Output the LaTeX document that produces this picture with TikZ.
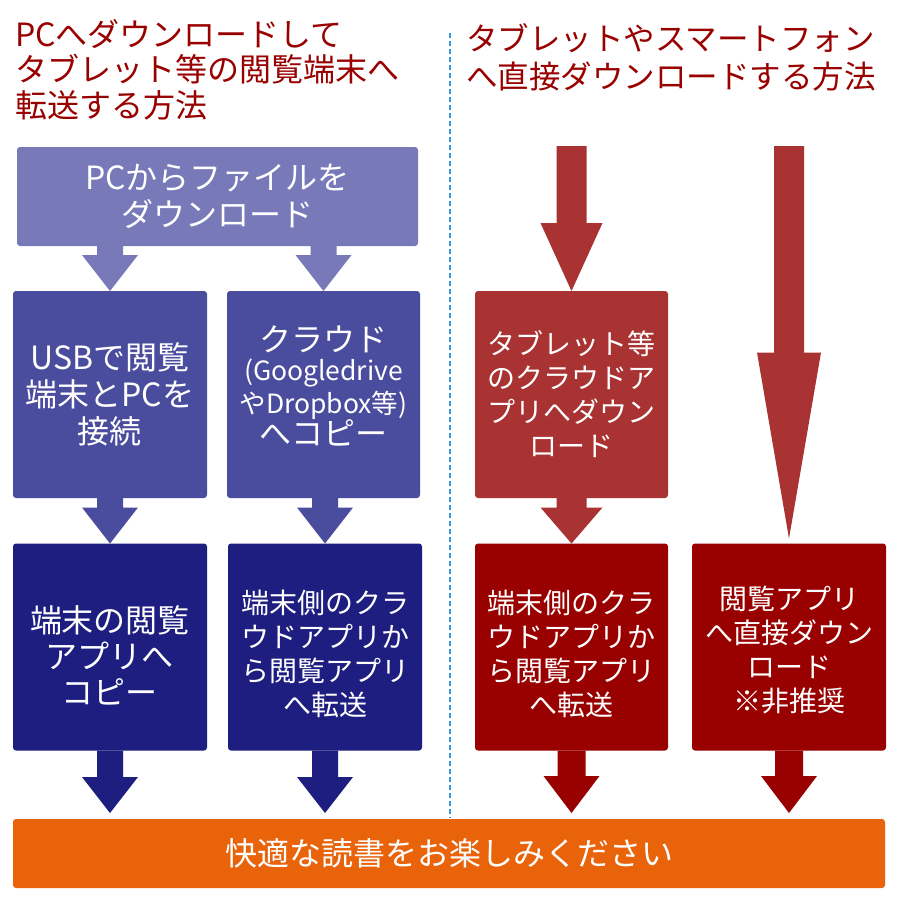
\documentclass[tikz,border=0pt]{standalone}
\usepackage{fontspec}
\setmainfont{Noto Sans CJK JP}
\usetikzlibrary{calc}
\definecolor{lavender}{HTML}{7879B9}
\definecolor{slate}{HTML}{4A4C9E}
\definecolor{navy}{HTML}{1D1E80}
\definecolor{brick}{HTML}{A93232}
\definecolor{darkred}{HTML}{990000}
\definecolor{enjoyorange}{HTML}{E8630A}
\definecolor{titlered}{HTML}{990000}
\definecolor{divider}{HTML}{3A9AD9}
\tikzset{
  box/.style={rectangle, rounded corners=3pt, inner sep=0pt, outer sep=0pt, text=white, align=center, minimum width=194pt, minimum height=207pt},
  txt/.style={text=white, align=center, inner sep=0pt},
  big/.style={font=\fontsize{32pt}{37pt}\selectfont},
  mid/.style={font=\fontsize{28pt}{34pt}\selectfont},
  ttl/.style={text=titlered, align=left, anchor=north west, inner sep=0pt},
}
\newcommand{\gfont}{\fontsize{26.5pt}{29pt}\selectfont}
% block arrow: colour, start, tip, shaft half width, head half width, head length
\newcommand{\blockarrow}[6]{%
  \fill[#1] let \p1=(#2), \p2=(#3) in
    (\x2-#4pt,\y1) -- (\x2-#4pt,\y2+#6pt) -- (\x2-#5pt,\y2+#6pt) -- (\x2,\y2)
    -- (\x2+#5pt,\y2+#6pt) -- (\x2+#4pt,\y2+#6pt) -- (\x2+#4pt,\y1) -- cycle;}

\begin{document}
\begin{tikzpicture}[x=1pt, y=-1pt]
    \fill[white] (0,0) rectangle (900,900);
    \useasboundingbox (0,0) rectangle (900,900);

    % titles
    \node[ttl, font=\fontsize{32pt}{35.5pt}\selectfont] (titleL) at (15,19) {PCへダウンロードして\\タブレット等の閲覧端末へ\\転送する方法};
    \node[ttl, font=\fontsize{31.5pt}{38pt}\selectfont] (titleR) at (466,23) {タブレットやスマートフォン\\へ直接ダウンロードする方法};

    % divider
    \coordinate (divtop) at (450,33);
    \coordinate (divbot) at (450,818);
    \draw[divider, line width=1.2pt, dash pattern=on 5pt off 3pt] (divtop) -- (divbot);

    % LEFT: via PC
    \node[box, big, fill=lavender, minimum width=401pt, minimum height=99pt] (dl) at (217.5,196.5) {PCからファイルを\\ダウンロード};

    \node[box, big, fill=slate] (usb) at (110,394.5) {USBで閲覧\\端末とPCを\\接続};
    \node[box, fill=slate, minimum width=193pt] (cloud) at (323.5,394.5) {};
    \node[txt, big] (cloudtxt) at ([yshift=9pt]cloud.center) {クラウド\\[-8pt]{\gfont (Googledrive}\\[-4pt]{\gfont やDropbox等)}\\[-5pt]へコピー};

    \node[box, fill=navy] (copyapp) at (110,647) {};
    \node[txt, big] (copytxt) at ([yshift=-8pt]copyapp.center) {端末の閲覧\\[-1pt]アプリへ\\[-1pt]コピー};
    \node[box, fill=navy] (cloudapp) at (325,647) {};
    \node[txt, mid] (cloudapptxt) at ([yshift=-7pt]cloudapp.center) {端末側のクラ\\ウドアプリか\\ら閲覧アプリ\\へ転送};

    \blockarrow{lavender}{dl.south}{usb.north}{13}{28}{36}
    \blockarrow{lavender}{dl.south}{cloud.north}{13}{28}{36}
    \blockarrow{slate}{usb.south}{copyapp.north}{13}{28}{36}
    \blockarrow{slate}{cloud.south}{cloudapp.north}{13}{28}{36}

    % RIGHT: direct to tablet
    \coordinate (srcA) at (573,146);
    \coordinate (srcB) at (789,146);

    \node[box, mid, fill=brick, minimum width=193pt] (tabcloud) at (571.5,394.5) {タブレット等\\のクラウドア\\プリへダウン\\ロード};
    \node[box, fill=darkred, minimum width=193pt] (tabapp) at (571.5,647) {};
    \node[txt, mid] (tabapptxt) at ([yshift=-7pt]tabapp.center) {端末側のクラ\\ウドアプリか\\ら閲覧アプリ\\へ転送};
    \node[box, fill=darkred] (direct) at (789,647) {};
    \node[txt, mid] (directtxt) at ([yshift=-3pt]direct.center) {閲覧アプリ\\へ直接ダウン\\ロード\\※非推奨};

    \blockarrow{brick}{srcA}{tabcloud.north}{15}{31}{68}
    \blockarrow{brick}{srcB}{$(direct.north)+(0,-5)$}{15}{32}{186}
    \blockarrow{brick}{tabcloud.south}{tabapp.north}{15}{31}{36}

    % bottom
    \node[box, big, fill=enjoyorange, minimum width=872pt, minimum height=69pt] (enjoy) at (449,853.5) {快適な読書をお楽しみください};

    \blockarrow{navy}{copyapp.south}{$(copyapp.south |- enjoy.north)+(0,-6)$}{13}{28}{36}
    \blockarrow{navy}{cloudapp.south}{$(cloudapp.south |- enjoy.north)+(0,-6)$}{13}{28}{36}
    \blockarrow{darkred}{tabapp.south}{$(tabapp.south |- enjoy.north)+(0,-6)$}{14}{28}{37}
    \blockarrow{darkred}{direct.south}{$(direct.south |- enjoy.north)+(0,-6)$}{14}{28}{37}
\end{tikzpicture}
\end{document}
